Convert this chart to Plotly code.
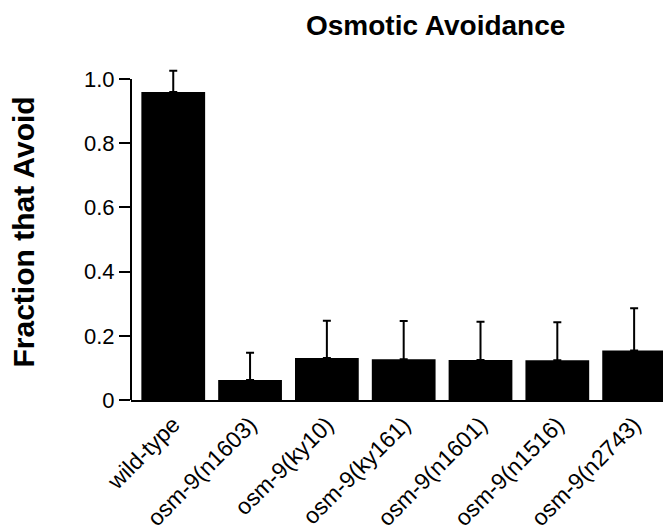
import plotly.graph_objects as go

categories = ["wild-type", "osm-9(n1603)", "osm-9(ky10)", "osm-9(ky161)",
              "osm-9(n1601)", "osm-9(n1516)", "osm-9(n2743)"]
values = [0.96, 0.062, 0.131, 0.127, 0.125, 0.124, 0.154]
errors = [0.066, 0.085, 0.116, 0.119, 0.119, 0.118, 0.132]
ytick_vals = [0, 0.2, 0.4, 0.6, 0.8, 1.0]
ytick_text = ["0", "0.2", "0.4", "0.6", "0.8", "1.0"]

FONT = "Liberation Sans, Arial, Helvetica, sans-serif"

xpos = list(range(len(categories)))

# The page body has an 8px default margin, so the figure is offset by 8px.
OFF = 8
W, H = 671 - OFF, 530 - OFF
L, R, T = 131 - OFF, 0, 63 - OFF
B = H - (400 - OFF)
YMAX = 1.05
plot_h = H - T - B
plot_w = W - L - R

fig = go.Figure(go.Bar(
    x=xpos, y=values,
    marker=dict(color="black", line=dict(width=0)),
    width=0.83,
    error_y=dict(type="data", array=errors, arrayminus=[0]*len(errors),
                 symmetric=False, color="black", thickness=2, width=4),
))

fig.update_layout(
    width=W, height=H,
    margin=dict(l=L, r=R, t=T, b=B, autoexpand=False),
    plot_bgcolor="white", paper_bgcolor="white",
    showlegend=False,
    font=dict(family=FONT, color="black"),
)
fig.update_xaxes(
    range=[-0.55, 6.48], automargin=False,
    tickmode="array", tickvals=xpos, ticktext=categories,
    tickangle=-45, tickfont=dict(size=23, family=FONT),
    showline=True, linecolor="black", linewidth=2,
    ticks="", showgrid=False, zeroline=False,
)
fig.update_yaxes(
    range=[0, YMAX], automargin=False,
    tickmode="array", tickvals=ytick_vals, ticktext=ytick_text,
    tickfont=dict(size=22, family=FONT),
    ticks="outside", ticklen=11, tickwidth=2, tickcolor="black",
    showline=False, showgrid=False, zeroline=False,
)
# y axis line only spanning 0..1.0
fig.add_shape(type="line", xref="paper", yref="y", x0=0, x1=0, y0=0, y1=1.0,
              line=dict(color="black", width=2))
fig.add_annotation(
    text="<b>Fraction that Avoid</b>", textangle=-90,
    xref="paper", yref="paper", x=(22.5 - OFF - L)/plot_w,
    y=1 - (232 - OFF - T)/plot_h,
    xanchor="center", yanchor="middle", showarrow=False,
    font=dict(size=30, family=FONT),
)
fig.add_annotation(
    text="<b>Osmotic Avoidance</b>",
    xref="paper", yref="paper", x=(435 - OFF - L)/plot_w,
    y=1 + (T - (25 - OFF))/plot_h,
    xanchor="center", yanchor="middle", showarrow=False,
    font=dict(size=28, family=FONT),
)
fig.write_html("out.html")
